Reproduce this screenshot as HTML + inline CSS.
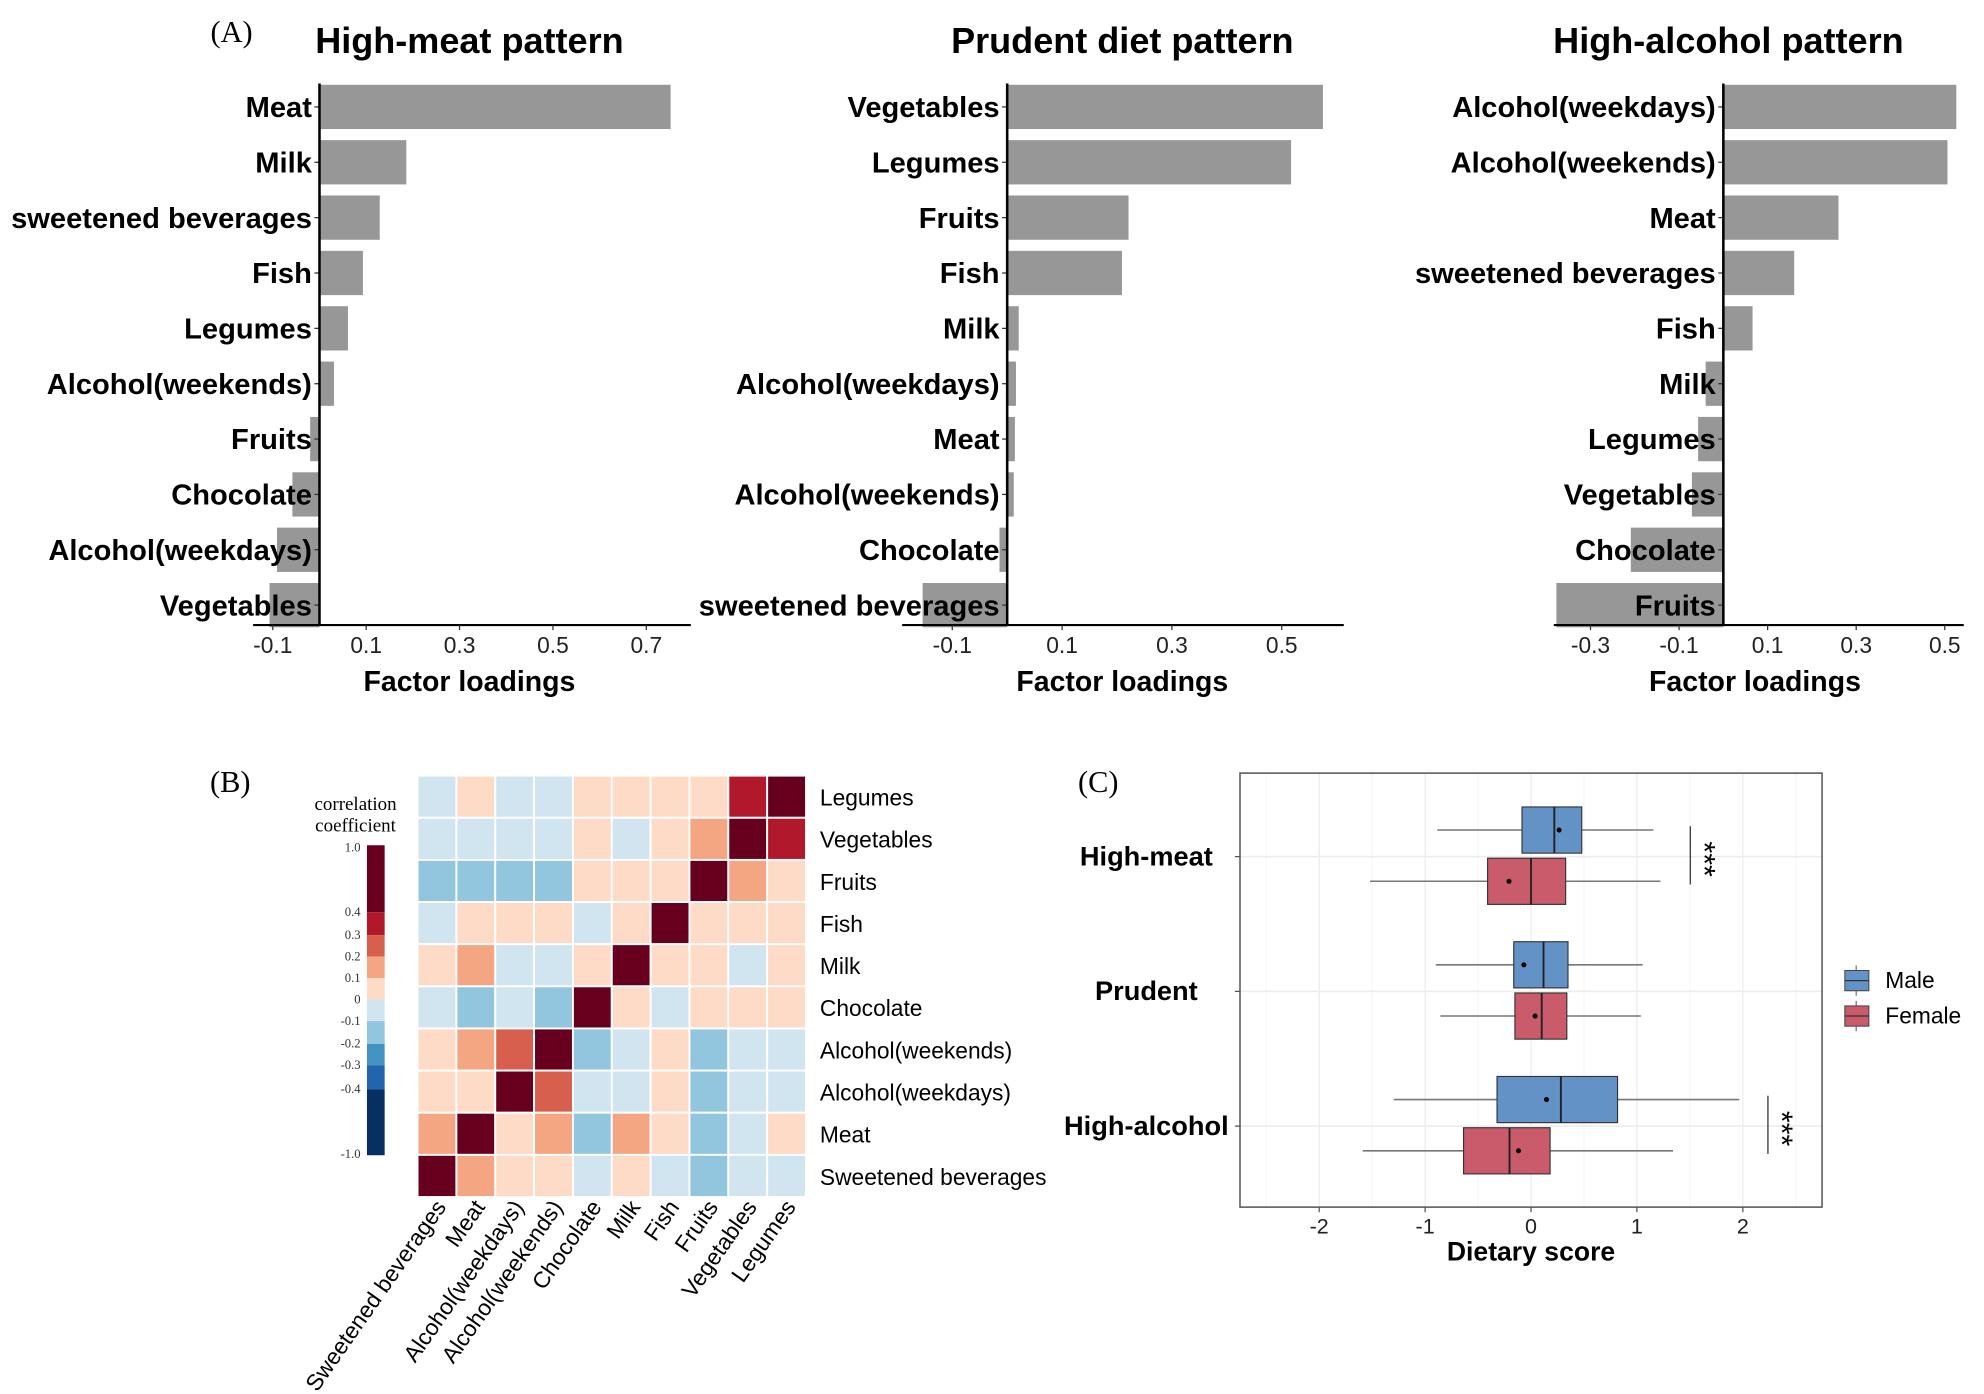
<!DOCTYPE html>
<html><head><meta charset="utf-8"><style>
html,body{margin:0;padding:0;background:#fff;}
svg{display:block;}
</style></head><body>
<svg id="fig" xmlns="http://www.w3.org/2000/svg" width="1984" height="1394" viewBox="0 0 1568 1101.7" preserveAspectRatio="none" font-family="'Liberation Sans', sans-serif">
<text x="183" y="33" font-family="'Liberation Serif', serif" font-size="24" text-anchor="middle">(A)</text>
<text x="182" y="626" font-family="'Liberation Serif', serif" font-size="24" text-anchor="middle">(B)</text>
<text x="868" y="626" font-family="'Liberation Serif', serif" font-size="24" text-anchor="middle">(C)</text>
<g id="bars"></g>
<g id="heat"></g>
<g id="box"></g>
</svg>
<script>
const NS="http://www.w3.org/2000/svg";
function mk(parent,tag,attrs,text){const e=document.createElementNS(NS,tag);for(const k in attrs)e.setAttribute(k,attrs[k]);if(text!==undefined)e.textContent=text;parent.appendChild(e);return e;}

// ---- Panel A data ----
const meatCats=["Meat","Milk","sweetened beverages","Fish","Legumes","Alcohol(weekends)","Fruits","Chocolate","Alcohol(weekdays)","Vegetables"];
const meatVals=[0.752,0.186,0.129,0.093,0.061,0.031,-0.02,-0.058,-0.091,-0.107];
const meatTicks=[-0.1,0.1,0.3,0.5,0.7];
const prudCats=["Vegetables","Legumes","Fruits","Fish","Milk","Alcohol(weekdays)","Meat","Alcohol(weekends)","Chocolate","sweetened beverages"];
const prudVals=[0.575,0.517,0.221,0.209,0.021,0.016,0.014,0.012,-0.014,-0.154];
const prudTicks=[-0.1,0.1,0.3,0.5];
const alcCats=["Alcohol(weekdays)","Alcohol(weekends)","Meat","sweetened beverages","Fish","Milk","Legumes","Vegetables","Chocolate","Fruits"];
const alcVals=[0.526,0.506,0.26,0.16,0.066,-0.04,-0.057,-0.071,-0.209,-0.377];
const alcTicks=[-0.3,-0.1,0.1,0.3,0.5];

function barPanel(cfg){
  const g=mk(document.getElementById('bars'),'g',{});
  
  
  const x=v=>cfg.zero+v*cfg.unit;
  const band=43.75,top=84.5-band/2,bh=35;
  const t=mk(g,'text',{x:cfg.titleX,y:42,'font-size':28.5,'font-weight':'bold','text-anchor':'middle'},cfg.title);
  
  cfg.cats.forEach((c,i)=>{
    const cy=top+band*(i+0.5),v=cfg.vals[i];
    const r=mk(g,'rect',{x:Math.min(x(0),x(v)),y:cy-bh/2,width:Math.abs(x(v)-x(0)),height:bh,fill:'#979797'});
    
    
    mk(g,'line',{x1:x(0)-4,x2:x(0),y1:cy,y2:cy,stroke:'#333','stroke-width':1});
    const l=mk(g,'text',{x:x(0)-6,y:cy+8,'font-size':23,'font-weight':'bold','text-anchor':'end'},c);
    
  });
  mk(g,'line',{x1:x(0),x2:x(0),y1:66,y2:494,stroke:'#000','stroke-width':2});
  const ax=mk(g,'line',{x1:cfg.ax0,x2:cfg.ax1,y1:494,y2:494,stroke:'#000','stroke-width':1.6});
  
  cfg.ticks.forEach(tv=>{
    mk(g,'line',{x1:x(tv),x2:x(tv),y1:494,y2:498,stroke:'#333'});
    const tl=mk(g,'text',{x:x(tv),y:516,'font-size':18,'text-anchor':'middle',fill:'#222'},tv.toFixed(1));
    
  });
  const xt=mk(g,'text',{x:cfg.axTitleX,y:546,'font-size':22.5,'font-weight':'bold','text-anchor':'middle'},'Factor loadings');
  
}
barPanel({name:'high-meat-chart',title:'High-meat pattern',titleX:371,axTitleX:371,cats:meatCats,vals:meatVals,ticks:meatTicks,zero:252.5,unit:369,ax0:200,ax1:546});
barPanel({name:'prudent-chart',title:'Prudent diet pattern',titleX:887,axTitleX:887,cats:prudCats,vals:prudVals,ticks:prudTicks,zero:796,unit:434,ax0:713,ax1:1062});
barPanel({name:'high-alcohol-chart',title:'High-alcohol pattern',titleX:1366,axTitleX:1387,cats:alcCats,vals:alcVals,ticks:alcTicks,zero:1362,unit:350,ax0:1228,ax1:1552});

// ---- Panel B data ----
const colNames=["Sweetened beverages","Meat","Alcohol(weekdays)","Alcohol(weekends)","Chocolate","Milk","Fish","Fruits","Vegetables","Legumes"];
const rowNames=["Legumes","Vegetables","Fruits","Fish","Milk","Chocolate","Alcohol(weekends)","Alcohol(weekdays)","Meat","Sweetened beverages"];
const corr=[
 [-0.05,0.05,-0.05,-0.05,0.05,0.05,0.05,0.05,0.35,1],
 [-0.05,-0.05,-0.05,-0.05,0.05,-0.05,0.05,0.15,1,0.35],
 [-0.15,-0.15,-0.15,-0.15,0.05,0.05,0.05,1,0.15,0.05],
 [-0.05,0.05,0.05,0.05,-0.05,0.05,1,0.05,0.05,0.05],
 [0.05,0.15,-0.05,-0.05,0.05,1,0.05,0.05,-0.05,0.05],
 [-0.05,-0.15,-0.05,-0.15,1,0.05,-0.05,0.05,0.05,0.05],
 [0.05,0.15,0.25,1,-0.15,-0.05,0.05,-0.15,-0.05,-0.05],
 [0.05,0.05,1,0.25,-0.05,-0.05,0.05,-0.15,-0.05,-0.05],
 [0.15,1,0.05,0.15,-0.15,0.15,0.05,-0.15,-0.05,0.05],
 [1,0.15,0.05,0.05,-0.05,0.05,-0.05,-0.15,-0.05,-0.05]];
const scaleBreaks=[1.0,0.4,0.3,0.2,0.1,0,-0.1,-0.2,-0.3,-0.4,-1.0];
const scaleColors=["#67001f","#b2182b","#d6604d","#f4a582","#fddbc7","#d1e5f0","#92c5de","#4393c3","#2166ac","#053061"];
function colorOf(v){for(let i=0;i<scaleColors.length;i++){if(v>=scaleBreaks[i+1])return scaleColors[i];}return scaleColors[scaleColors.length-1];}
(function(){
  const g=document.getElementById('heat');
  
  const L=330,R=637,T=613,B=946,cw=(R-L)/colNames.length,rh=(B-T)/rowNames.length;
  rowNames.forEach((rn,i)=>{colNames.forEach((cn,j)=>{
    const c=mk(g,'rect',{x:L+j*cw,y:T+i*rh,width:cw,height:rh,fill:colorOf(corr[i][j]),stroke:'#fff','stroke-width':1.5});
    
  });
    const t=mk(g,'text',{x:648,y:T+rh*(i+0.5)+7,'font-size':18},rn);
    
  });
  colNames.forEach((cn,j)=>{
    const cx=L+cw*(j+0.5)+8,cy=B+8;
    const t=mk(g,'text',{x:cx,y:cy,'font-size':18,'text-anchor':'end',transform:`rotate(-55 ${cx} ${cy})`},cn);
    
  });
  const bx=290,bw=14,ys=[668,721,739,756,773,790,807,825,842,861,913];
  scaleColors.forEach((c,i)=>{mk(g,'rect',{x:bx,y:ys[i],width:bw,height:ys[i+1]-ys[i],fill:c});});
  scaleBreaks.forEach((b,i)=>{
    const t=mk(g,'text',{x:285,y:ys[i]+(i==0?5:i==10?2:3),'font-size':10,'text-anchor':'end','font-family':"'Liberation Serif', serif",fill:'#333'},b===0?'0':b.toFixed(1));
    
  });
  const l1=mk(g,'text',{x:281,y:640,'font-size':15,'text-anchor':'middle','font-family':"'Liberation Serif', serif"},'correlation');
  
  const l2=mk(g,'text',{x:281,y:657,'font-size':15,'text-anchor':'middle','font-family':"'Liberation Serif', serif"},'coefficient');
  
})();

// ---- Panel C data ----
const patterns=["High-meat","Prudent","High-alcohol"];
const maleStats=[[-0.885,-0.085,0.22,0.479,1.155],[-0.90,-0.163,0.118,0.349,1.054],[-1.296,-0.321,0.282,0.817,1.966]];
const femaleStats=[[-1.52,-0.41,0,0.327,1.222],[-0.856,-0.152,0.101,0.338,1.037],[-1.589,-0.637,-0.203,0.18,1.341]];
const maleMeans=[0.265,-0.068,0.146];
const femaleMeans=[-0.208,0.039,-0.118];
const xTicksC=[-2,-1,0,1,2];
const sigPos=[1.504,null,2.237];
(function(){
  const g=document.getElementById('box');
  
  const L=980,R=1440,T=611,B=954;
  const x=v=>1210+v*83.7;
  const rowY=[677,783.5,890];
  for(let v=-2.5;v<=2.5;v+=0.5){mk(g,'line',{x1:x(v),x2:x(v),y1:T,y2:B,stroke:Number.isInteger(v)?'#ebebeb':'#f4f4f4','stroke-width':Number.isInteger(v)?1:0.7});}
  rowY.forEach(y=>mk(g,'line',{x1:L,x2:R,y1:y,y2:y,stroke:'#ebebeb','stroke-width':1.2}));
  function drawBox(s,mean,cy,fill,name){
    const h=36.5;
    mk(g,'line',{x1:x(s[0]),x2:x(s[4]),y1:cy,y2:cy,stroke:'#777','stroke-width':1.2});
    const r=mk(g,'rect',{x:x(s[1]),y:cy-h/2,width:x(s[3])-x(s[1]),height:h,fill:fill,stroke:'#333','stroke-width':0.9});
    
    mk(g,'line',{x1:x(s[2]),x2:x(s[2]),y1:cy-h/2,y2:cy+h/2,stroke:'#222','stroke-width':1.5});
    mk(g,'circle',{cx:x(mean),cy:cy,r:2,fill:'#000'});
  }
  patterns.forEach((p,i)=>{
    drawBox(maleStats[i],maleMeans[i],rowY[i]-21,'#6393c6','box-male-'+p.toLowerCase());
    drawBox(femaleStats[i],femaleMeans[i],rowY[i]+19.5,'#c95b6a','box-female-'+p.toLowerCase());
    mk(g,'line',{x1:L-4,x2:L,y1:rowY[i],y2:rowY[i],stroke:'#555'});
    const t=mk(g,'text',{x:906,y:rowY[i]+7,'font-size':21.5,'font-weight':'bold','text-anchor':'middle'},p);
    
    if(sigPos[i]!==null){
      const sx=x(sigPos[i]);
      mk(g,'line',{x1:sx,x2:sx,y1:rowY[i]-24,y2:rowY[i]+22,stroke:'#333','stroke-width':1});
      const st=mk(g,'text',{x:sx+3,y:rowY[i]+2,'font-size':24,transform:`rotate(90 ${sx+3} ${rowY[i]+2})`,'text-anchor':'middle'},'***');
      
    }
  });
  const fr=mk(g,'rect',{x:L,y:T,width:R-L,height:B-T,fill:'none',stroke:'#555','stroke-width':1.2});
  
  xTicksC.forEach(v=>{
    mk(g,'line',{x1:x(v),x2:x(v),y1:B,y2:B+4,stroke:'#555'});
    const t=mk(g,'text',{x:x(v),y:975,'font-size':17,'text-anchor':'middle',fill:'#222'},String(v));
    
  });
  const xt=mk(g,'text',{x:1210,y:996,'font-size':21,'font-weight':'bold','text-anchor':'middle'},'Dietary score');
  
  [['Male','#6393c6',775],['Female','#c95b6a',803]].forEach(([n,c,y])=>{
    mk(g,'line',{x1:1467,x2:1467,y1:y-12,y2:y+12,stroke:'#777'});
    const k=mk(g,'rect',{x:1458,y:y-8,width:19,height:16,fill:c,stroke:'#444','stroke-width':0.8});
    
    mk(g,'line',{x1:1458,x2:1477,y1:y,y2:y,stroke:'#333'});
    const t=mk(g,'text',{x:1490,y:y+6,'font-size':18},n);
    
  });
})();
</script>
</body></html>
